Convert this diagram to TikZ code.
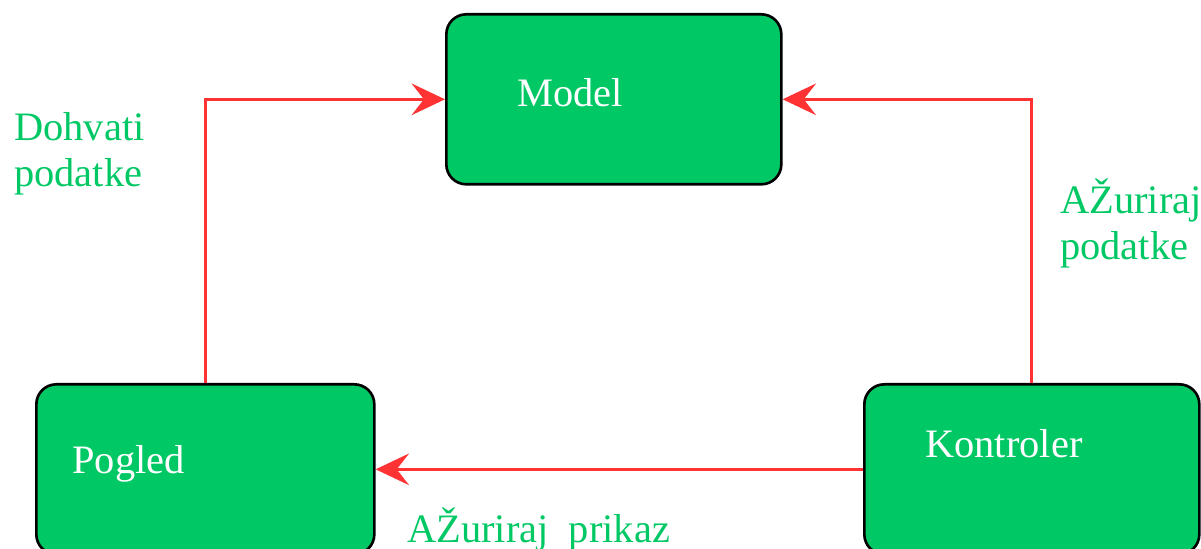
\documentclass[tikz,border=0pt]{standalone}
\usepackage{fontspec}
\setmainfont{Liberation Serif}
\usetikzlibrary{arrows.meta}
\definecolor{zelena}{RGB}{0,200,100}
\definecolor{crvena}{RGB}{255,51,51}
\tikzset{
  blok/.style={draw=black, line width=1.5pt, fill=zelena, rounded corners=0.4cm,
    minimum width=6.7cm, minimum height=3.4cm, inner sep=0pt, anchor=north west},
  naziv/.style={text=white, inner sep=0pt, anchor=base west,
    font=\fontsize{23}{27}\selectfont},
  opis/.style={text=zelena, inner sep=0pt, anchor=base west, align=left,
    font=\fontsize{23}{26.7}\selectfont},
  veza/.style={crvena, line width=1.6pt, -{Stealth[length=19pt,width=18pt,inset=7pt]}}
}
\begin{document}
\begin{tikzpicture}
      \path[use as bounding box, clip] (0,0) rectangle (24.02,-10.98);
      \node[blok] (model) at (8.9,-0.26) {};
      \node[blok, minimum width=6.76cm] (pogled) at (0.7,-7.66) {};
      \node[blok] (kontroler) at (17.26,-7.66) {};
      \node[naziv] (modelnaziv) at (10.34,-2.14) {Model};
      \node[naziv] (poglednaziv) at (1.44,-9.46) {Pogled};
      \node[naziv] (kontrolernaziv) at (18.5,-9.14) {Kontroler};
      \begin{scope}[veza]
        \draw (pogled.north) |- (model.west);
        \draw (kontroler.north) |- (model.east);
        \draw (kontroler.west) -- (pogled.east);
      \end{scope}
      \node[opis] (dohvati) at (0.28,-3.74) {Dohvati\\podatke};
      \node[opis] (azurirajpodatke) at (21.2,-5.2) {AŽuriraj\\podatke};
      \node[opis] (azurirajprikaz) at (8.14,-10.84) {AŽuriraj\ \ prikaz};
    \end{tikzpicture}
\end{document}
